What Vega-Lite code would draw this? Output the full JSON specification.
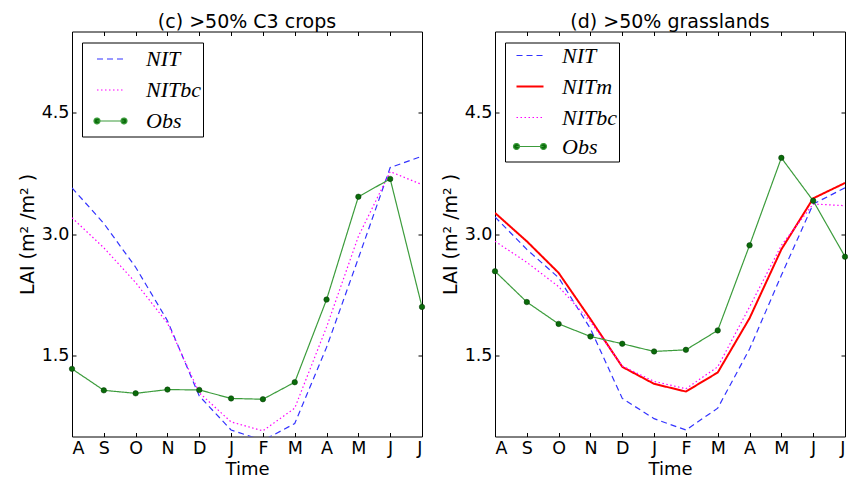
{
  "$schema": "https://vega.github.io/schema/vega-lite/v6.json",
  "background": "white",
  "padding": {"left": 17, "top": 12.5, "right": 0, "bottom": 0},
  "datasets": {
    "lai": [
      {"panel": "c", "series": "NIT", "t": 0, "v": 3.57},
      {"panel": "c", "series": "NIT", "t": 1, "v": 3.13},
      {"panel": "c", "series": "NIT", "t": 2, "v": 2.59},
      {"panel": "c", "series": "NIT", "t": 3, "v": 1.93},
      {"panel": "c", "series": "NIT", "t": 4, "v": 1.0},
      {"panel": "c", "series": "NIT", "t": 5, "v": 0.58},
      {"panel": "c", "series": "NIT", "t": 6, "v": 0.45},
      {"panel": "c", "series": "NIT", "t": 7, "v": 0.66},
      {"panel": "c", "series": "NIT", "t": 8, "v": 1.6},
      {"panel": "c", "series": "NIT", "t": 9, "v": 2.7},
      {"panel": "c", "series": "NIT", "t": 10, "v": 3.82},
      {"panel": "c", "series": "NIT", "t": 11, "v": 3.96},
      {"panel": "c", "series": "NITbc", "t": 0, "v": 3.2},
      {"panel": "c", "series": "NITbc", "t": 1, "v": 2.83},
      {"panel": "c", "series": "NITbc", "t": 2, "v": 2.4},
      {"panel": "c", "series": "NITbc", "t": 3, "v": 1.9},
      {"panel": "c", "series": "NITbc", "t": 4, "v": 1.04},
      {"panel": "c", "series": "NITbc", "t": 5, "v": 0.68},
      {"panel": "c", "series": "NITbc", "t": 6, "v": 0.57},
      {"panel": "c", "series": "NITbc", "t": 7, "v": 0.85},
      {"panel": "c", "series": "NITbc", "t": 8, "v": 1.85},
      {"panel": "c", "series": "NITbc", "t": 9, "v": 2.97},
      {"panel": "c", "series": "NITbc", "t": 10, "v": 3.77},
      {"panel": "c", "series": "NITbc", "t": 11, "v": 3.61},
      {"panel": "c", "series": "Obs", "t": 0, "v": 1.335},
      {"panel": "c", "series": "Obs", "t": 1, "v": 1.07},
      {"panel": "c", "series": "Obs", "t": 2, "v": 1.033},
      {"panel": "c", "series": "Obs", "t": 3, "v": 1.079},
      {"panel": "c", "series": "Obs", "t": 4, "v": 1.075},
      {"panel": "c", "series": "Obs", "t": 5, "v": 0.97},
      {"panel": "c", "series": "Obs", "t": 6, "v": 0.96},
      {"panel": "c", "series": "Obs", "t": 7, "v": 1.17},
      {"panel": "c", "series": "Obs", "t": 8, "v": 2.19},
      {"panel": "c", "series": "Obs", "t": 9, "v": 3.46},
      {"panel": "c", "series": "Obs", "t": 10, "v": 3.68},
      {"panel": "c", "series": "Obs", "t": 11, "v": 2.1},
      {"panel": "d", "series": "NIT", "t": 0, "v": 3.21},
      {"panel": "d", "series": "NIT", "t": 1, "v": 2.81},
      {"panel": "d", "series": "NIT", "t": 2, "v": 2.46},
      {"panel": "d", "series": "NIT", "t": 3, "v": 1.83},
      {"panel": "d", "series": "NIT", "t": 4, "v": 0.97},
      {"panel": "d", "series": "NIT", "t": 5, "v": 0.72},
      {"panel": "d", "series": "NIT", "t": 6, "v": 0.58},
      {"panel": "d", "series": "NIT", "t": 7, "v": 0.85},
      {"panel": "d", "series": "NIT", "t": 8, "v": 1.58},
      {"panel": "d", "series": "NIT", "t": 9, "v": 2.49},
      {"panel": "d", "series": "NIT", "t": 10, "v": 3.37},
      {"panel": "d", "series": "NIT", "t": 11, "v": 3.57},
      {"panel": "d", "series": "NITm", "t": 0, "v": 3.26},
      {"panel": "d", "series": "NITm", "t": 1, "v": 2.91},
      {"panel": "d", "series": "NITm", "t": 2, "v": 2.52},
      {"panel": "d", "series": "NITm", "t": 3, "v": 1.95},
      {"panel": "d", "series": "NITm", "t": 4, "v": 1.36},
      {"panel": "d", "series": "NITm", "t": 5, "v": 1.15},
      {"panel": "d", "series": "NITm", "t": 6, "v": 1.055},
      {"panel": "d", "series": "NITm", "t": 7, "v": 1.29},
      {"panel": "d", "series": "NITm", "t": 8, "v": 1.96},
      {"panel": "d", "series": "NITm", "t": 9, "v": 2.81},
      {"panel": "d", "series": "NITm", "t": 10, "v": 3.44},
      {"panel": "d", "series": "NITm", "t": 11, "v": 3.63},
      {"panel": "d", "series": "NITbc", "t": 0, "v": 2.91},
      {"panel": "d", "series": "NITbc", "t": 1, "v": 2.65},
      {"panel": "d", "series": "NITbc", "t": 2, "v": 2.35},
      {"panel": "d", "series": "NITbc", "t": 3, "v": 1.92},
      {"panel": "d", "series": "NITbc", "t": 4, "v": 1.37},
      {"panel": "d", "series": "NITbc", "t": 5, "v": 1.18},
      {"panel": "d", "series": "NITbc", "t": 6, "v": 1.09},
      {"panel": "d", "series": "NITbc", "t": 7, "v": 1.36},
      {"panel": "d", "series": "NITbc", "t": 8, "v": 2.1},
      {"panel": "d", "series": "NITbc", "t": 9, "v": 2.86},
      {"panel": "d", "series": "NITbc", "t": 10, "v": 3.37},
      {"panel": "d", "series": "NITbc", "t": 11, "v": 3.35},
      {"panel": "d", "series": "Obs", "t": 0, "v": 2.54},
      {"panel": "d", "series": "Obs", "t": 1, "v": 2.16},
      {"panel": "d", "series": "Obs", "t": 2, "v": 1.89},
      {"panel": "d", "series": "Obs", "t": 3, "v": 1.735},
      {"panel": "d", "series": "Obs", "t": 4, "v": 1.645},
      {"panel": "d", "series": "Obs", "t": 5, "v": 1.55},
      {"panel": "d", "series": "Obs", "t": 6, "v": 1.57},
      {"panel": "d", "series": "Obs", "t": 7, "v": 1.81},
      {"panel": "d", "series": "Obs", "t": 8, "v": 2.86},
      {"panel": "d", "series": "Obs", "t": 9, "v": 3.94},
      {"panel": "d", "series": "Obs", "t": 10, "v": 3.41},
      {"panel": "d", "series": "Obs", "t": 11, "v": 2.72}
    ]
  },
  "spacing": 73,
  "bounds": "flush",
  "resolve": {"scale": {"color": "independent"}},
  "hconcat": [
    {
      "title": "(c) >50% C3 crops",
      "width": 350,
      "height": 405,
      "data": {"name": "lai"},
      "transform": [{"filter": "datum.panel === 'c'"}],
      "layer": [
        {
          "mark": {"type": "line", "clip": true},
          "encoding": {
            "x": {"field": "t", "type": "quantitative", "scale": {"domain": [0, 11], "nice": false},
                  "axis": {"orient": "bottom", "values": [0,1,2,3,4,5,6,7,8,9,10,11], "labelExpr": "['A','S','O','N','D','J','F','M','A','M','J','J'][datum.value]", "title": "Time"}},
            "y": {"field": "v", "type": "quantitative", "scale": {"domain": [0.5, 5.5], "nice": false, "zero": false},
                  "axis": {"orient": "left", "values": [1.5, 3.0, 4.5], "format": ".1f", "title": "LAI (m² /m² )"}},
            "color": {"field": "series", "type": "nominal",
                      "scale": {"domain": ["NIT", "NITbc", "Obs"], "range": ["#3333ff", "#ff00ff", "#3c9c3c"]},
                      "legend": {"orient": "none", "legendX": 10, "legendY": 11,
                        "encode": {"symbols": {"update": {
                        "shape": {"signal": "datum.value === 'Obs' ? 'M0,-0.75M0,0.75M-1,0H1M-1.22,0A0.22,0.22 0 1,0 -0.78,0A0.22,0.22 0 1,0 -1.22,0ZM0.78,0A0.22,0.22 0 1,0 1.22,0A0.22,0.22 0 1,0 0.78,0Z' : 'M0,-0.75M0,0.75M-1,0H1'"},
                        "stroke": {"signal": "datum.value === 'NIT' ? '#3333ff' : (datum.value === 'NITbc' ? '#ff00ff' : '#3c9c3c')"},
                        "strokeDash": {"signal": "datum.value === 'NIT' ? [6, 4] : (datum.value === 'NITbc' ? [1.5, 2.5] : [1, 0])"},
                        "fill": {"signal": "datum.value === 'Obs' ? '#0a6b0a' : 'transparent'"},
                        "strokeWidth": {"signal": "1.2"}}}}}},
            "strokeDash": {"condition": [{"test": "datum.series === 'NIT'", "value": [6, 4]}, {"test": "datum.series === 'NITbc'", "value": [1.5, 2.5]}], "value": [1, 0]},
            "strokeWidth": {"condition": {"test": "datum.series === 'NITm'", "value": 2}, "value": 1.2}
          }
        },
        {
          "transform": [{"filter": "datum.series === 'Obs'"}],
          "mark": {"type": "point", "filled": true, "size": 30, "fill": "#0a6b0a", "stroke": "#053505", "strokeWidth": 0.5, "opacity": 1},
          "encoding": {
            "x": {"field": "t", "type": "quantitative",
                  "axis": {"orient": "top", "values": [0,1,2,3,4,5,6,7,8,9,10,11], "labels": false, "title": null}},
            "y": {"field": "v", "type": "quantitative",
                  "axis": {"orient": "right", "values": [1.5, 3.0, 4.5], "labels": false, "title": null}}
          }
        }
      ]
    },
    {
      "title": "(d) >50% grasslands",
      "width": 350,
      "height": 405,
      "data": {"name": "lai"},
      "transform": [{"filter": "datum.panel === 'd'"}],
      "layer": [
        {
          "mark": {"type": "line", "clip": true},
          "encoding": {
            "x": {"field": "t", "type": "quantitative", "scale": {"domain": [0, 11], "nice": false},
                  "axis": {"orient": "bottom", "values": [0,1,2,3,4,5,6,7,8,9,10,11], "labelExpr": "['A','S','O','N','D','J','F','M','A','M','J','J'][datum.value]", "title": "Time"}},
            "y": {"field": "v", "type": "quantitative", "scale": {"domain": [0.5, 5.5], "nice": false, "zero": false},
                  "axis": {"orient": "left", "values": [1.5, 3.0, 4.5], "format": ".1f", "title": "LAI (m² /m² )"}},
            "color": {"field": "series", "type": "nominal",
                      "scale": {"domain": ["NIT", "NITm", "NITbc", "Obs"], "range": ["#3333ff", "#ff0000", "#ff00ff", "#3c9c3c"]},
                      "legend": {"orient": "none", "legendX": 10, "legendY": 11,
                        "encode": {"symbols": {"update": {
                        "shape": {"signal": "datum.value === 'Obs' ? 'M0,-0.75M0,0.75M-1,0H1M-1.22,0A0.22,0.22 0 1,0 -0.78,0A0.22,0.22 0 1,0 -1.22,0ZM0.78,0A0.22,0.22 0 1,0 1.22,0A0.22,0.22 0 1,0 0.78,0Z' : 'M0,-0.75M0,0.75M-1,0H1'"},
                        "stroke": {"signal": "datum.value === 'NIT' ? '#3333ff' : (datum.value === 'NITm' ? '#ff0000' : (datum.value === 'NITbc' ? '#ff00ff' : '#3c9c3c'))"},
                        "strokeDash": {"signal": "datum.value === 'NIT' ? [6, 4] : (datum.value === 'NITbc' ? [1.5, 2.5] : [1, 0])"},
                        "fill": {"signal": "datum.value === 'Obs' ? '#0a6b0a' : 'transparent'"},
                        "strokeWidth": {"signal": "datum.value === 'NITm' ? 2 : 1.2"}}}}}},
            "strokeDash": {"condition": [{"test": "datum.series === 'NIT'", "value": [6, 4]}, {"test": "datum.series === 'NITbc'", "value": [1.5, 2.5]}], "value": [1, 0]},
            "strokeWidth": {"condition": {"test": "datum.series === 'NITm'", "value": 2}, "value": 1.2}
          }
        },
        {
          "transform": [{"filter": "datum.series === 'Obs'"}],
          "mark": {"type": "point", "filled": true, "size": 30, "fill": "#0a6b0a", "stroke": "#053505", "strokeWidth": 0.5, "opacity": 1},
          "encoding": {
            "x": {"field": "t", "type": "quantitative",
                  "axis": {"orient": "top", "values": [0,1,2,3,4,5,6,7,8,9,10,11], "labels": false, "title": null}},
            "y": {"field": "v", "type": "quantitative",
                  "axis": {"orient": "right", "values": [1.5, 3.0, 4.5], "labels": false, "title": null}}
          }
        }
      ]
    }
  ],
  "config": {
    "view": {"stroke": "black", "strokeWidth": 1},
    "font": "DejaVu Sans",
    "title": {"font": "DejaVu Sans", "fontSize": 19, "fontWeight": "normal", "color": "black", "offset": -1},
    "axis": {"domain": false, "grid": false, "tickColor": "black", "tickSize": -4, "tickWidth": 1,
             "labelFont": "DejaVu Sans", "labelFontSize": 17.5, "labelColor": "black",
             "titleFont": "DejaVu Sans", "titleFontSize": 19, "titleFontWeight": "normal", "titleColor": "black"},
    "axisX": {"labelPadding": 7, "titlePadding": 3, "titleFontSize": 18},
    "axisY": {"labelPadding": 7, "titlePadding": 4},
    "legend": {"title": null, "padding": 2, "strokeColor": "black",
               "fillColor": "white", "symbolType": "stroke", "symbolSize": 729, "symbolOffset": 12,
               "labelOffset": 21, "rowPadding": 3, "labelFont": "Liberation Serif", "labelFontStyle": "italic",
               "labelFontSize": 22, "labelColor": "black", "symbolStrokeWidth": 1.2, "labelLimit": 300, "cornerRadius": 0}
  }
}
